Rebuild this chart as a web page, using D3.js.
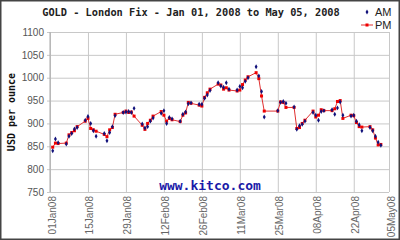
<!DOCTYPE html>
<html>
<head>
<meta charset="utf-8">
<script src="https://cdn.jsdelivr.net/npm/d3@7"></script>
<style>
body { margin: 0; background: #fff; }
svg { display: block; }
</style>
</head>
<body>
<svg width="400" height="240"></svg>
<script>
var dates = [
  "2008-01-02","2008-01-03","2008-01-04","2008-01-07","2008-01-08","2008-01-09","2008-01-10","2008-01-11",
  "2008-01-14","2008-01-15","2008-01-16","2008-01-17","2008-01-18","2008-01-21","2008-01-22","2008-01-23",
  "2008-01-24","2008-01-25","2008-01-28","2008-01-29","2008-01-30","2008-01-31","2008-02-01","2008-02-04",
  "2008-02-05","2008-02-06","2008-02-07","2008-02-08","2008-02-11","2008-02-12","2008-02-13","2008-02-14",
  "2008-02-15","2008-02-18","2008-02-19","2008-02-20","2008-02-21","2008-02-22","2008-02-25","2008-02-26",
  "2008-02-27","2008-02-28","2008-02-29","2008-03-03","2008-03-04","2008-03-05","2008-03-06","2008-03-07",
  "2008-03-10","2008-03-11","2008-03-12","2008-03-13","2008-03-14","2008-03-17","2008-03-18","2008-03-19",
  "2008-03-20","2008-03-25","2008-03-26","2008-03-27","2008-03-28","2008-03-31","2008-04-01","2008-04-02",
  "2008-04-03","2008-04-04","2008-04-07","2008-04-08","2008-04-09","2008-04-10","2008-04-11","2008-04-14",
  "2008-04-15","2008-04-16","2008-04-17","2008-04-18","2008-04-21","2008-04-22","2008-04-23","2008-04-24",
  "2008-04-25","2008-04-28","2008-04-29","2008-04-30","2008-05-01","2008-05-02"
];

var pmFix = [
  848, 857, 856, 857, 875, 880, 884, 893,
  905, 911, 889, 886, 883, 876, 871, 886,
  891, 920, 924, 927, 924, 925, 916, 896,
  887, 900, 907, 916, 926, 918, 905, 911,
  908, 904, 918, 923, 946, 944, 940, 938,
  957, 967, 975, 986, 984, 975, 978, 973,
  971, 973, 985, 995, 1002, 1011, 998, 960,
  927, 927, 947, 946, 935, 935, 889, 891,
  900, 907, 927, 914, 918, 930, 928, 928,
  932, 948, 950, 911, 918, 917, 902, 893,
  892, 893, 886, 868, 853, 854
];

var amFix = [
  840, 866, 858, 855, 872, 878, 888, 891,
  907, 915, 900, 884, 872, 878, 862, 880,
  893, 917, 924, 925, 926, 924, 933, 899,
  890, 893, 905, 912, 922, 928, 900, 913,
  910, 905, 920, 925, 943, 945, 942, 942,
  955, 962, 972, 989, 982, 979, 989, 975,
  973, 981, 978, 992, 1000, 1024, 1004, 970,
  914, 928, 946, 948, 944, 936, 887, 895,
  898, 905, 924, 918, 907, 926, 928, 930,
  920, 934, 947, 918, 916, 918, 905, 897,
  884, 891, 884, 872, 859, 852
];

var xTicks = ["2008-01-01","2008-01-15","2008-01-29","2008-02-12","2008-02-26",
              "2008-03-11","2008-03-25","2008-04-08","2008-04-22","2008-05-05"];
var yTicks = [750, 800, 850, 900, 950, 1000, 1050, 1100];

var parse = d3.utcParse("%Y-%m-%d");
var fmt = d3.utcFormat("%d%b%y");

var svg = d3.select("svg"),
    plotLeft = 50, plotRight = 389, plotTop = 32, plotBottom = 192;

var x = d3.scaleUtc()
    .domain([parse(xTicks[0]), parse(xTicks[xTicks.length - 1])])
    .range([plotLeft, plotRight]);
var y = d3.scaleLinear().domain([750, 1100]).range([plotBottom, plotTop]);

var data = dates.map(function(d, i){
  return {date: parse(d), am: amFix[i], pm: pmFix[i]};
});

// outer frame
svg.append("rect")
    .attr("x", 0.75).attr("y", 0.75)
    .attr("width", 398.5).attr("height", 238.5)
    .attr("fill", "#fff")
    .attr("stroke", "#444")
    .attr("stroke-width", 1.5);

// grid + axes
var gy = svg.append("g")
    .attr("transform", "translate(" + plotLeft + ",0)")
    .call(d3.axisLeft(y).tickValues(yTicks).tickSize(0).tickPadding(6).tickFormat(d3.format("d")));
gy.select(".domain").remove();
gy.selectAll(".tick").append("line")
    .attr("x1", -3).attr("x2", plotRight - plotLeft)
    .attr("stroke", "#c8c8c8");
gy.selectAll("text")
    .attr("fill", "#555")
    .style("font", "10px 'Liberation Sans', Arial, sans-serif");

var gx = svg.append("g")
    .attr("transform", "translate(0," + plotBottom + ")")
    .call(d3.axisBottom(x).tickValues(xTicks.map(parse)).tickSize(-(plotBottom - plotTop)).tickFormat(fmt));
gx.selectAll(".tick line").attr("stroke", "#c8c8c8");
gx.select(".domain").remove();
gx.selectAll("text")
    .attr("fill", "#666")
    .attr("y", 0)
    .attr("dy", 0)
    .attr("text-anchor", "end")
    .attr("transform", "translate(5,4) rotate(-90)")
    .style("font", "10px 'Liberation Sans', Arial, sans-serif");

svg.append("line")
    .attr("x1", plotLeft).attr("x2", plotLeft)
    .attr("y1", plotTop).attr("y2", plotBottom)
    .attr("stroke", "#a8a8a8");

// watermark
svg.append("text")
    .attr("x", 210).attr("y", 190)
    .attr("text-anchor", "middle")
    .attr("fill", "#1a1aa8")
    .style("font", "bold 13px 'DejaVu Sans Mono', monospace")
    .text("www.kitco.com");

// PM line + markers
var line = d3.line()
    .x(function(d){return x(d.date);})
    .y(function(d){return y(d.pm);});

svg.append("path")
    .attr("d", line(data))
    .attr("fill", "none")
    .attr("stroke", "#e03030")
    .attr("stroke-width", 1);

svg.selectAll(".pm").data(data).enter().append("rect")
    .attr("class", "pm")
    .attr("x", function(d){return x(d.date) - 1.5;})
    .attr("y", function(d){return y(d.pm) - 1.5;})
    .attr("width", 3).attr("height", 3)
    .attr("fill", "#f00000");

// AM markers
var diamond = d3.symbol().type(d3.symbolDiamond).size(7);
svg.selectAll(".am").data(data).enter().append("path")
    .attr("class", "am")
    .attr("transform", function(d){return "translate(" + x(d.date) + "," + y(d.am) + ")";})
    .attr("d", diamond)
    .attr("fill", "#10107a");

// title
svg.append("text")
    .attr("x", 191).attr("y", 16)
    .attr("text-anchor", "middle")
    .attr("fill", "#222")
    .style("font", "bold 10.3px 'DejaVu Sans Mono', monospace")
    .text("GOLD - London Fix - Jan 01, 2008 to May 05, 2008");

// y label
svg.append("text")
    .attr("transform", "translate(15,112) rotate(-90)")
    .attr("text-anchor", "middle")
    .attr("fill", "#111")
    .style("font", "bold 10px 'DejaVu Sans Mono', monospace")
    .text("USD per ounce");

// legend
var lg = svg.append("g");
lg.append("path")
    .attr("transform", "translate(367,12)")
    .attr("d", diamond)
    .attr("fill", "#10107a");
lg.append("text")
    .attr("x", 375).attr("y", 16)
    .attr("fill", "#222")
    .style("font", "11px 'Liberation Sans', Arial, sans-serif")
    .text("AM");
lg.append("line")
    .attr("x1", 361).attr("x2", 373)
    .attr("y1", 25).attr("y2", 25)
    .attr("stroke", "#e03030");
lg.append("rect")
    .attr("x", 365.5).attr("y", 23.5)
    .attr("width", 3).attr("height", 3)
    .attr("fill", "#f00000");
lg.append("text")
    .attr("x", 375).attr("y", 29)
    .attr("fill", "#222")
    .style("font", "11px 'Liberation Sans', Arial, sans-serif")
    .text("PM");
</script>
</body>
</html>
